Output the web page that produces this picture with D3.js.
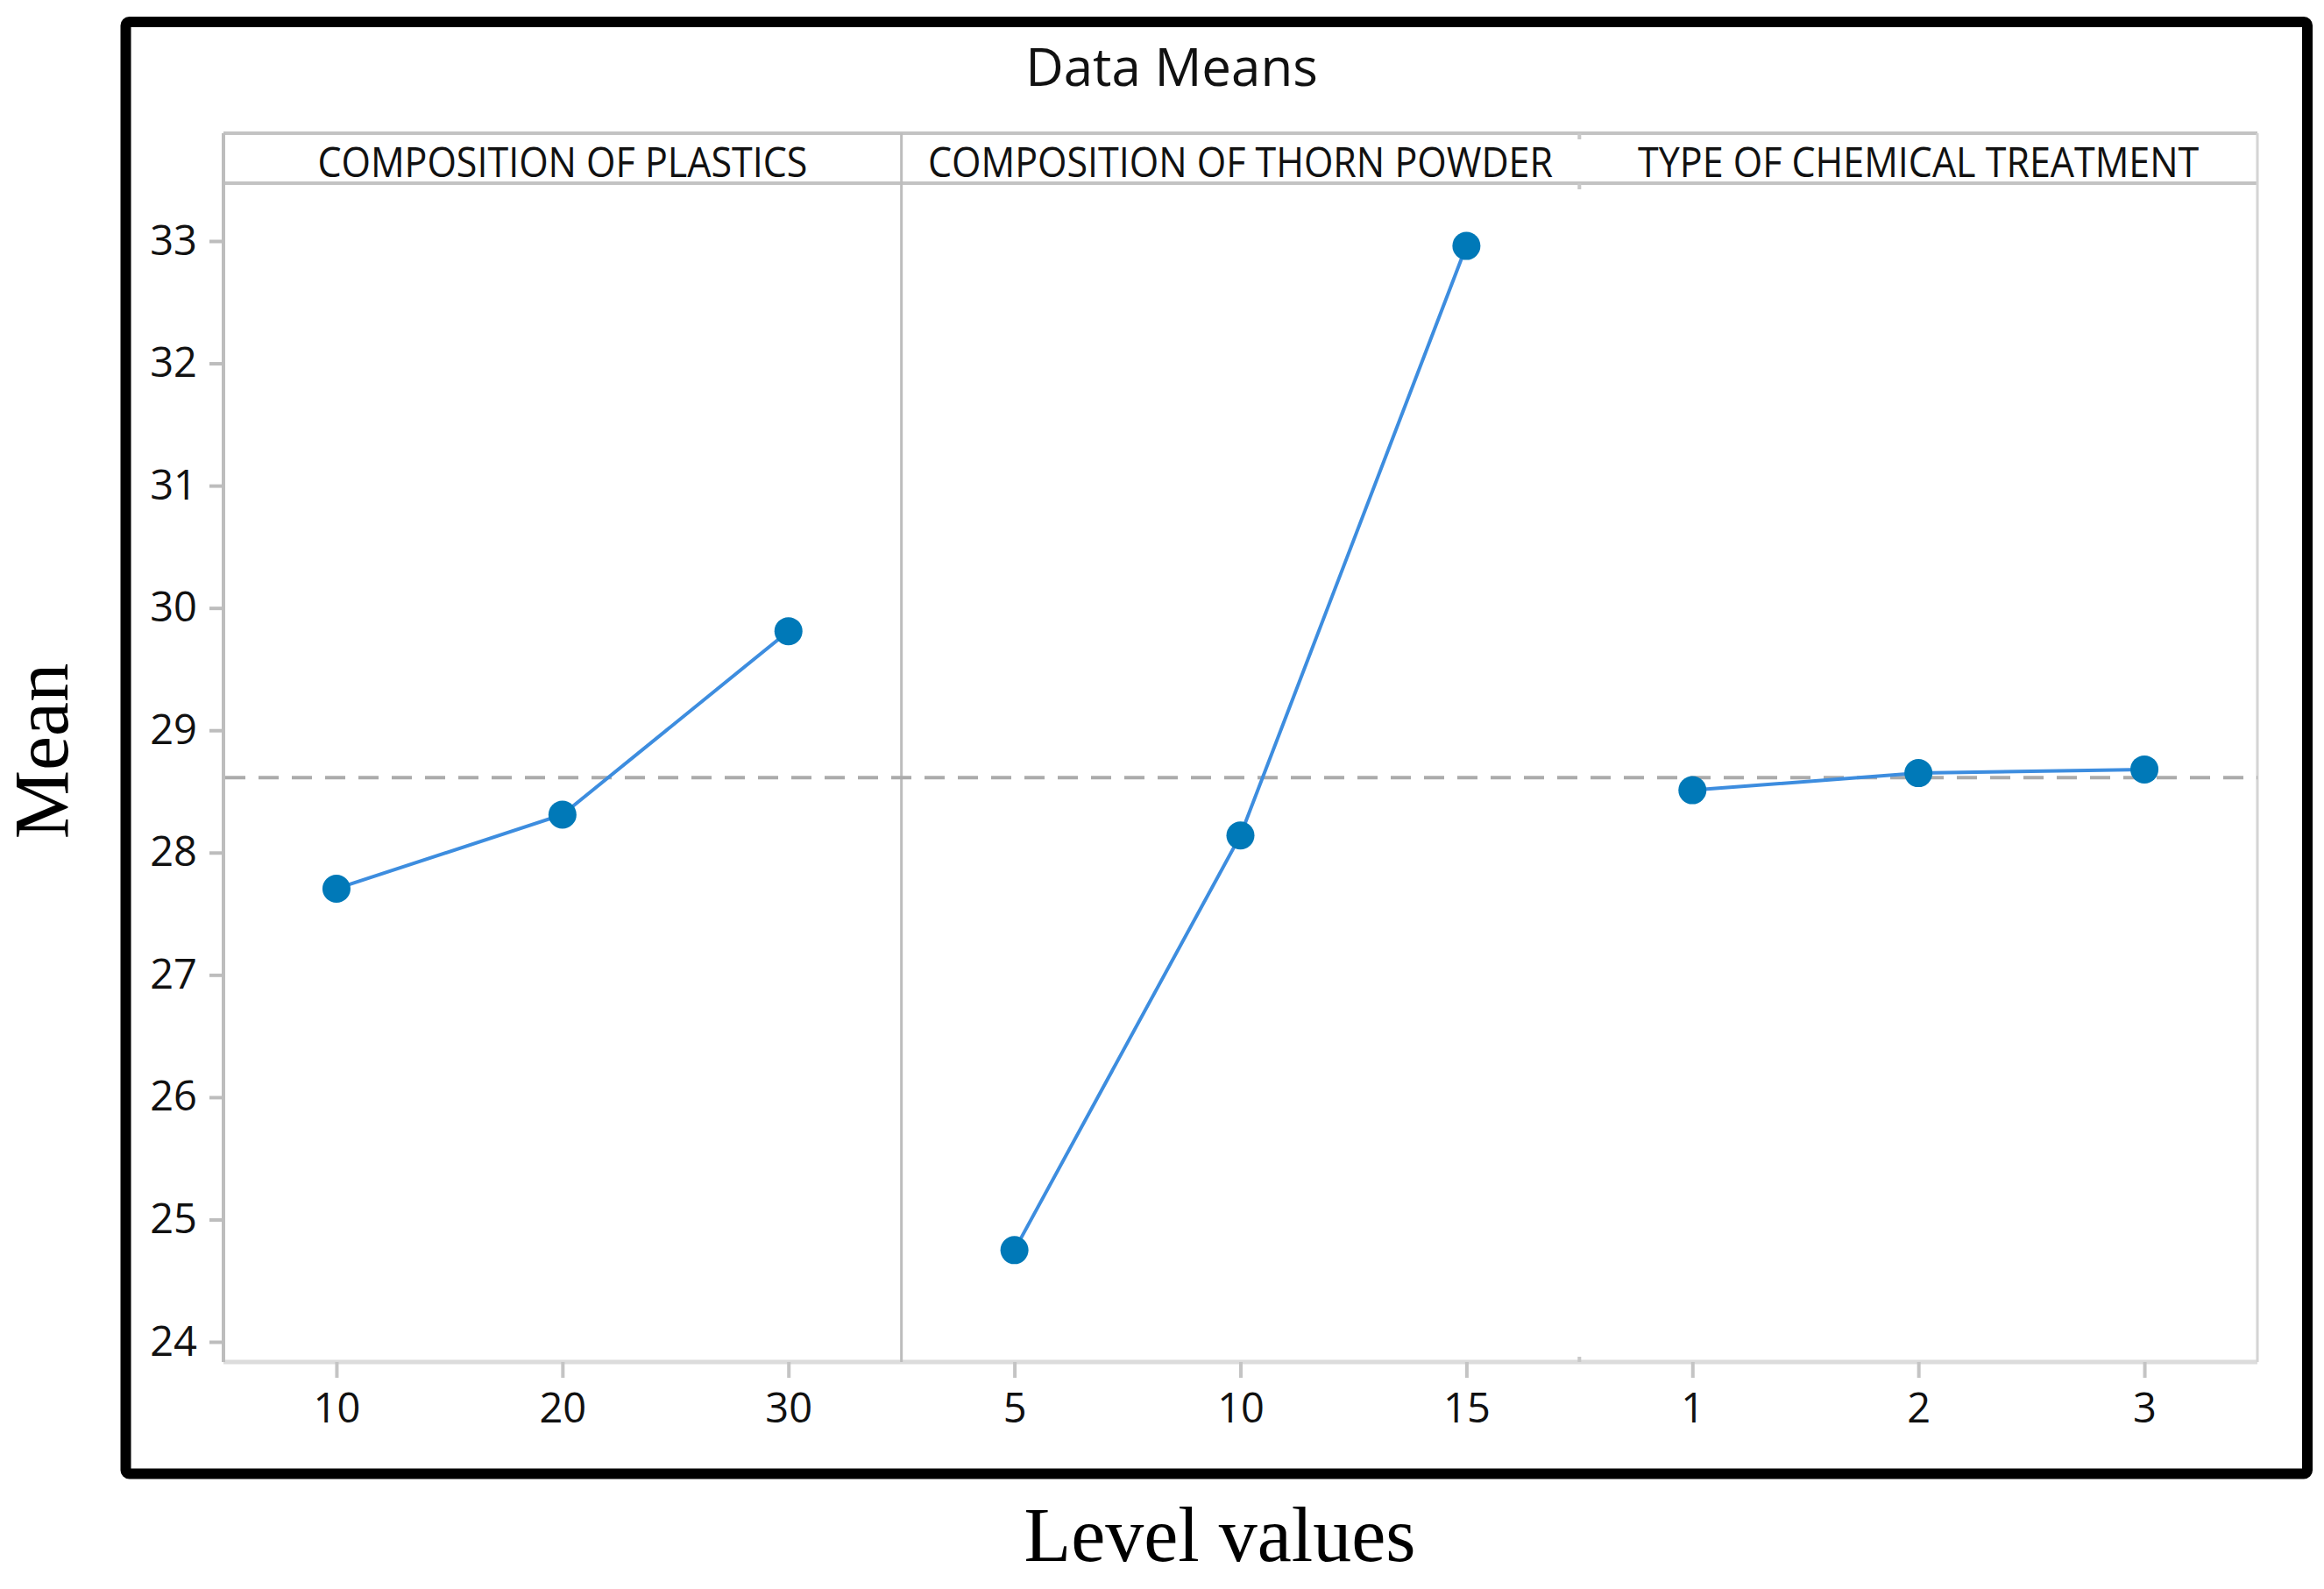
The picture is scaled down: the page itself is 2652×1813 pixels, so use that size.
<!DOCTYPE html>
<html>
<head>
<meta charset="utf-8">
<script src="https://cdn.jsdelivr.net/npm/d3@7"></script>
<style>
  html, body { margin: 0; padding: 0; background: #fff; }
  svg { display: block; }
</style>
</head>
<body>
<div id="chart"></div>
<script>
"use strict";

// chart data
var panelNames = ["COMPOSITION OF PLASTICS", "COMPOSITION OF THORN POWDER", "TYPE OF CHEMICAL TREATMENT"];
var plasticLevels = ["10", "20", "30"];
var plasticMeans = [27.705, 28.31, 29.81];
var thornLevels = ["5", "10", "15"];
var thornMeans = [24.75, 28.14, 32.96];
var treatLevels = ["1", "2", "3"];
var treatMeans = [28.51, 28.65, 28.68];
var yTicks = [24, 25, 26, 27, 28, 29, 30, 31, 32, 33];

var W = 2652, H = 1813;
var left = 255, right = 2576;
var stripTop = 152, stripBottom = 209, plotBottom = 1554;

var panels = [
  { name: panelNames[0], levels: plasticLevels, means: plasticMeans },
  { name: panelNames[1], levels: thornLevels, means: thornMeans },
  { name: panelNames[2], levels: treatLevels, means: treatMeans }
];

var allMeans = plasticMeans.concat(thornMeans, treatMeans);
var grandMean = d3.mean(allMeans);

var svg = d3.select("#chart").append("svg")
  .attr("width", W)
  .attr("height", H);

var y = d3.scaleLinear().domain([24, 33]).range([1531, 275]);
var panelW = (right - left) / panels.length;
var px = d3.scaleBand().domain(d3.range(panels.length)).range([left, right]);

var line = d3.line()
  .x(function(d) { return d.x; })
  .y(function(d) { return y(d.v); });

// outer black frame
svg.append("rect")
  .attr("x", 143.5).attr("y", 25)
  .attr("width", 2489.5).attr("height", 1656.5)
  .attr("rx", 4)
  .attr("fill", "none")
  .attr("stroke", "#000")
  .attr("stroke-width", 12);

// title
svg.append("text")
  .attr("x", 1337).attr("y", 98)
  .attr("text-anchor", "middle")
  .style("font-family", "'Open Sans', sans-serif")
  .style("font-size", "60px")
  .attr("fill", "#111")
  .text("Data Means");

// panel frame lines
var frame = svg.append("g").attr("class", "frame");
frame.append("line").attr("x1", left).attr("x2", right).attr("y1", stripTop).attr("y2", stripTop)
  .attr("stroke", "#c3c3c3").attr("stroke-width", 4);
frame.append("line").attr("x1", left).attr("x2", right).attr("y1", stripBottom).attr("y2", stripBottom)
  .attr("stroke", "#c3c3c3").attr("stroke-width", 4);
frame.append("line").attr("x1", left).attr("x2", right).attr("y1", plotBottom).attr("y2", plotBottom)
  .attr("stroke", "#dcdcdc").attr("stroke-width", 5);
frame.append("line").attr("x1", left).attr("x2", left).attr("y1", stripTop).attr("y2", plotBottom)
  .attr("stroke", "#bdbdbd").attr("stroke-width", 4);
frame.append("line").attr("x1", right).attr("x2", right).attr("y1", stripTop).attr("y2", plotBottom)
  .attr("stroke", "#d4d4d4").attr("stroke-width", 3);

// first divider full height, second only little stubs
var d1 = px(1), d2 = px(2);
frame.append("line").attr("x1", d1).attr("x2", d1).attr("y1", stripTop).attr("y2", plotBottom)
  .attr("stroke", "#bdbdbd").attr("stroke-width", 3);
[[stripTop, stripTop + 7], [stripBottom, stripBottom + 7], [plotBottom - 6, plotBottom]].forEach(function(s) {
  frame.append("line").attr("x1", d2).attr("x2", d2).attr("y1", s[0]).attr("y2", s[1])
    .attr("stroke", "#c8c8c8").attr("stroke-width", 4);
});

// y axis
var yAxis = d3.axisLeft(y).tickValues(yTicks).tickSize(16).tickPadding(14);
var gy = svg.append("g")
  .attr("transform", "translate(" + left + ",0)")
  .call(yAxis);
gy.select(".domain").remove();
gy.selectAll(".tick line").attr("stroke", "#bdbdbd").attr("stroke-width", 4);
gy.selectAll(".tick text")
  .style("font-family", "'Open Sans', sans-serif")
  .style("font-size", "47px")
  .attr("fill", "#111");

// reference line at the grand mean
svg.append("line")
  .attr("x1", left + 2).attr("x2", right)
  .attr("y1", y(grandMean)).attr("y2", y(grandMean))
  .attr("stroke", "#ababab")
  .attr("stroke-width", 4)
  .attr("stroke-dasharray", "23,15");

panels.forEach(function(p, i) {
  var x0 = px(i);
  var x = d3.scalePoint().domain(p.levels).range([0, panelW]).padding(0.5);
  var g = svg.append("g").attr("transform", "translate(" + x0 + ",0)");

  // strip label, squashed like the original
  g.append("g")
    .attr("transform", "translate(" + (panelW / 2) + ",202) scale(0.915,1)")
    .append("text")
    .attr("text-anchor", "middle")
    .style("font-family", "'Open Sans', sans-serif")
    .style("font-size", "47px")
    .attr("fill", "#111")
    .text(p.name);

  var xAxis = d3.axisBottom(x).tickSize(18).tickPadding(18);
  var gx = g.append("g")
    .attr("transform", "translate(0," + plotBottom + ")")
    .call(xAxis);
  gx.select(".domain").remove();
  gx.selectAll(".tick line").attr("stroke", "#c4c4c4").attr("stroke-width", 4);
  gx.selectAll(".tick text")
    .style("font-family", "'Open Sans', sans-serif")
    .style("font-size", "47px")
    .attr("fill", "#111");

  var pts = p.levels.map(function(l, j) { return { x: x(l), v: p.means[j] }; });

  g.append("path")
    .datum(pts)
    .attr("d", line)
    .attr("fill", "none")
    .attr("stroke", "#3d8ddf")
    .attr("stroke-width", 4);

  g.selectAll("circle")
    .data(pts)
    .enter().append("circle")
    .attr("cx", function(d) { return d.x; })
    .attr("cy", function(d) { return y(d.v); })
    .attr("r", 16)
    .attr("fill", "#0079b8");
});

// outer axis titles
svg.append("text")
  .attr("transform", "translate(77,857) rotate(-90)")
  .attr("text-anchor", "middle")
  .style("font-family", "'Liberation Serif', 'Times New Roman', serif")
  .style("font-size", "88px")
  .attr("fill", "#000")
  .text("Mean");

svg.append("text")
  .attr("x", 1392).attr("y", 1781)
  .attr("text-anchor", "middle")
  .style("font-family", "'Liberation Serif', 'Times New Roman', serif")
  .style("font-size", "88px")
  .attr("fill", "#000")
  .text("Level values");
</script>
</body>
</html>
